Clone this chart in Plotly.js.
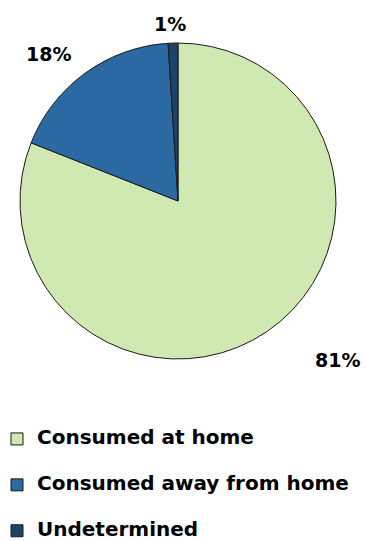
<!DOCTYPE html>
<html>
<head>
<meta charset="utf-8">
<script src="https://cdn.plot.ly/plotly-3.0.1.min.js"></script>
<style>html,body{margin:0;padding:0;background:#fff}#chart{width:365px;height:541px}</style>
</head>
<body>
<div id="chart"></div>
<script>
const categories = ["Consumed at home", "Consumed away from home", "Undetermined"];
const shares = [81, 18, 1];
const sliceColors = ["#d0e8b1", "#2b69a3", "#1d4468"];
const labelPos = [[0.926, 0.3346], [0.133, 0.9007], [0.466, 0.956]];

const FONT = "DejaVu Sans, Liberation Sans, Arial, sans-serif";

const trace = {
  type: "pie",
  labels: categories.map(c => '<span style="font-size:20px;baseline-shift:8px">' + c + '</span>'),
  values: shares,
  sort: false,
  direction: "clockwise",
  rotation: 0,
  textinfo: "none",
  hoverinfo: "label+percent",
  marker: { colors: sliceColors, line: { color: "#1a1a1a", width: 1 } },
  domain: { x: [20/365, 336/365], y: [1 - 359/541, 1 - 43/541] }
};

const annotations = shares.map((v, i) => ({
  xref: "paper", yref: "paper",
  x: labelPos[i][0], y: labelPos[i][1],
  xanchor: "center", yanchor: "middle",
  text: v + "%",
  showarrow: false,
  font: { family: FONT, size: 19, color: "#000", weight: "bold" }
}));

const layout = {
  width: 365, height: 541,
  margin: { l: 0, r: 0, t: 0, b: 0, autoexpand: false },
  paper_bgcolor: "#fff",
  showlegend: true,
  legend: {
    x: -3/365, y: 1 - 411/541, xanchor: "left", yanchor: "top",
    orientation: "v",
    font: { family: FONT, size: 33, color: "#000", weight: "bold" },
    bgcolor: "rgba(0,0,0,0)", borderwidth: 0
  },
  annotations: annotations
};

Plotly.newPlot("chart", [trace], layout, { displayModeBar: false, staticPlot: true });
</script>
</body>
</html>
